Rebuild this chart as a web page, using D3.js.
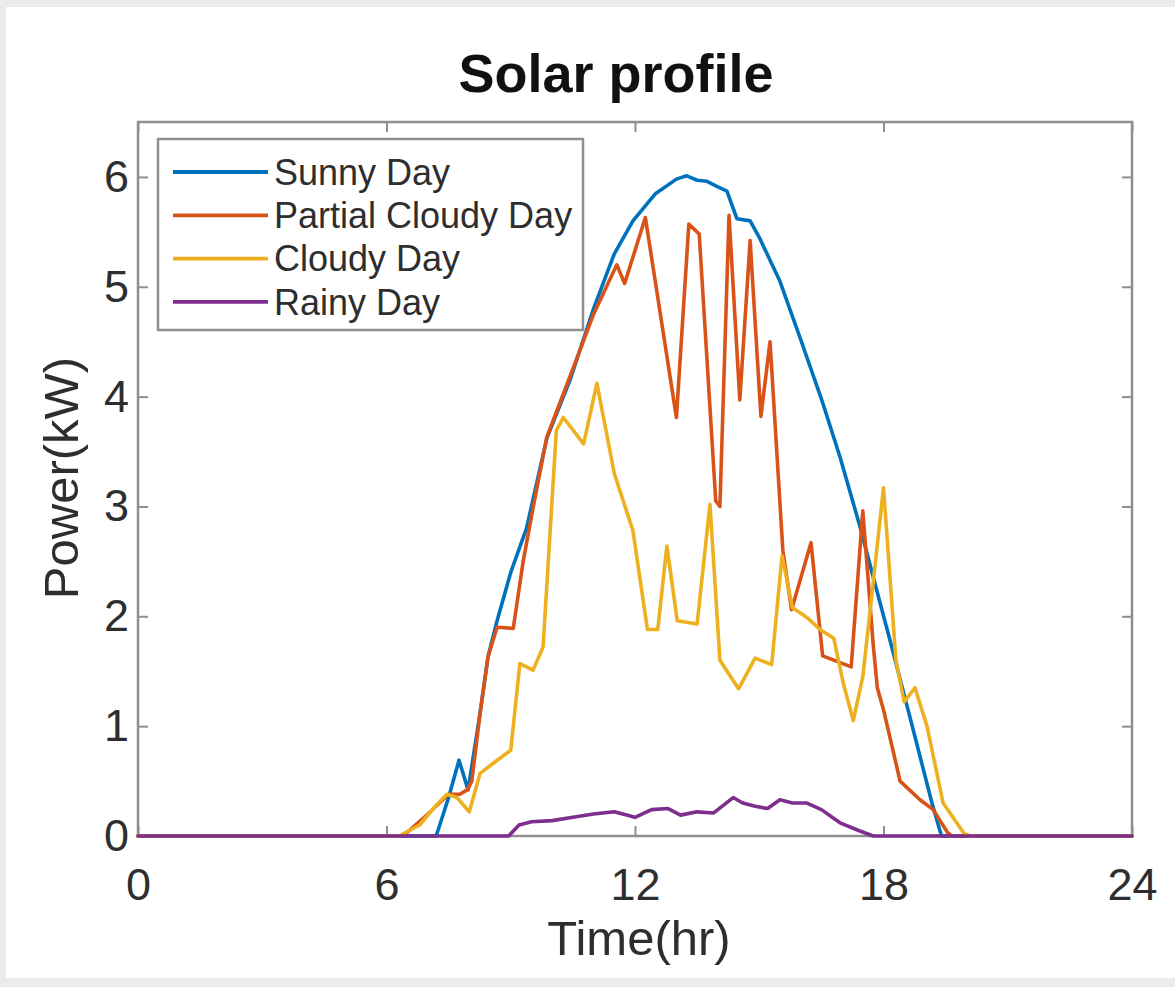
<!DOCTYPE html>
<html>
<head>
<meta charset="utf-8">
<script src="https://cdn.jsdelivr.net/npm/d3@7"></script>
<style>
  html, body { margin: 0; padding: 0; background: #ebebeb; }
  svg { display: block; }
  text { font-family: "Liberation Sans", Arial, Helvetica, sans-serif; }
</style>
</head>
<body>
<svg id="chart" width="1175" height="987"></svg>
<script>
// ---------------- data (time in hours, power in kW) ----------------
const seriesNames = ["Sunny Day", "Partial Cloudy Day", "Cloudy Day", "Rainy Day"];
const seriesColors = ["#0072BD", "#D95319", "#EDB120", "#7E2F8E"];

const sunny = [
  [0,0],[7.2,0],[7.5,0.35],[7.75,0.69],[7.97,0.42],[8.26,1.12],[8.45,1.63],[8.67,1.96],
  [9.0,2.4],[9.38,2.8],[9.87,3.62],[10.43,4.15],[11.0,4.8],[11.5,5.3],[11.95,5.6],
  [12.5,5.85],[13.0,5.98],[13.25,6.01],[13.5,5.97],[13.74,5.96],[14.0,5.91],[14.22,5.87],
  [14.46,5.62],[14.78,5.6],[15.0,5.45],[15.5,5.05],[16.0,4.52],[16.5,3.98],[16.95,3.45],
  [17.43,2.82],[17.75,2.36],[18.2,1.72],[18.64,1.08],[19.17,0.3],[19.4,0],[24,0]
];

const partialCloudy = [
  [0,0],[6.4,0],[7.0,0.2],[7.5,0.38],[7.77,0.38],[7.95,0.42],[8.06,0.5],[8.26,1.12],
  [8.45,1.63],[8.67,1.9],[9.06,1.89],[9.3,2.5],[9.54,2.99],[9.87,3.63],[10.67,4.42],
  [11.0,4.75],[11.56,5.2],[11.75,5.03],[12.25,5.63],[13.0,3.81],[13.3,5.57],[13.55,5.48],
  [13.95,3.05],[14.05,3.0],[14.27,5.65],[14.53,3.97],[14.78,5.42],[15.04,3.82],[15.26,4.5],
  [15.57,2.6],[15.78,2.06],[16.25,2.67],[16.53,1.64],[17.22,1.54],[17.5,2.96],[17.75,1.75],
  [17.85,1.35],[18.0,1.15],[18.4,0.5],[18.88,0.33],[19.2,0.24],[19.55,0.03],[19.65,0],[24,0]
];

const cloudy = [
  [0,0],[6.3,0],[6.8,0.1],[7.2,0.28],[7.46,0.38],[7.7,0.35],[8.0,0.22],[8.26,0.57],
  [8.57,0.66],[9.0,0.78],[9.22,1.57],[9.54,1.51],[9.78,1.72],[10.1,3.69],[10.27,3.81],
  [10.76,3.57],[11.08,4.12],[11.5,3.3],[11.95,2.78],[12.3,1.88],[12.55,1.88],[12.77,2.64],
  [13.02,1.96],[13.5,1.93],[13.81,3.02],[14.05,1.6],[14.5,1.34],[14.9,1.62],[15.3,1.56],
  [15.55,2.55],[15.8,2.08],[16.15,1.99],[16.5,1.87],[16.8,1.8],[17.03,1.39],[17.27,1.05],
  [17.5,1.45],[17.72,2.2],[18.0,3.17],[18.3,1.6],[18.5,1.22],[18.76,1.35],[19.05,1.0],
  [19.44,0.3],[19.95,0.02],[20.1,0],[24,0]
];

const rainy = [
  [0,0],[8.95,0],[9.2,0.1],[9.5,0.13],[10.0,0.14],[10.5,0.17],[11.0,0.2],[11.5,0.22],
  [12.0,0.17],[12.4,0.24],[12.8,0.25],[13.1,0.19],[13.5,0.22],[13.9,0.21],[14.37,0.35],
  [14.6,0.3],[14.9,0.27],[15.2,0.25],[15.5,0.33],[15.8,0.3],[16.15,0.3],[16.5,0.24],
  [16.95,0.12],[17.4,0.05],[17.75,0],[24,0]
];

const xTicks = [0, 6, 12, 18, 24];
const yTicks = [0, 1, 2, 3, 4, 5, 6];
const titleText = "Solar profile";
const xLabel = "Time(hr)";
const yLabel = "Power(kW)";

// ---------------- drawing ----------------
const svg = d3.select("#chart");
const W = 1175, H = 987;
const plot = { left: 138, right: 1132, top: 122, bottom: 836 };
const boxColor = "#8f8f8f";
const textColor = "#2e2e2e";

// white figure panel
svg.append("rect").attr("x", 6).attr("y", 7).attr("width", W - 6).attr("height", 971).attr("fill", "#ffffff");

const x = d3.scaleLinear().domain([0, 24]).range([plot.left, plot.right]);
const y = d3.scaleLinear().domain([0, 6.5]).range([plot.bottom, plot.top]);

// axes
const gx = svg.append("g").attr("transform", `translate(0,${plot.bottom})`)
  .call(d3.axisBottom(x).tickValues(xTicks).tickFormat(d3.format("d")).tickSizeInner(-10).tickSizeOuter(0).tickPadding(32));
const gy = svg.append("g").attr("transform", `translate(${plot.left},0)`)
  .call(d3.axisLeft(y).tickValues(yTicks).tickFormat(d3.format("d")).tickSizeInner(-10).tickSizeOuter(0).tickPadding(9));
const gxt = svg.append("g").attr("transform", `translate(0,${plot.top})`)
  .call(d3.axisTop(x).tickValues(xTicks).tickFormat("").tickSizeInner(-10).tickSizeOuter(0));
const gyr = svg.append("g").attr("transform", `translate(${plot.right},0)`)
  .call(d3.axisRight(y).tickValues(yTicks).tickFormat("").tickSizeInner(-10).tickSizeOuter(0));

[gx, gy, gxt, gyr].forEach(g => {
  g.select(".domain").remove();
  g.selectAll(".tick line").attr("stroke", boxColor).attr("stroke-width", 2);
  g.selectAll(".tick text").attr("fill", textColor).attr("font-size", 45)
    .attr("font-family", "'Liberation Sans', Arial, sans-serif");
});

// plot frame
svg.append("rect")
  .attr("x", plot.left).attr("y", plot.top)
  .attr("width", plot.right - plot.left).attr("height", plot.bottom - plot.top)
  .attr("fill", "none").attr("stroke", boxColor).attr("stroke-width", 2.5);

// lines
const line = d3.line().x(d => x(d[0])).y(d => y(d[1]));
const allSeries = [sunny, partialCloudy, cloudy, rainy];
allSeries.forEach((s, i) => {
  svg.append("path").datum(s)
    .attr("d", line)
    .attr("fill", "none")
    .attr("stroke", seriesColors[i])
    .attr("stroke-width", 3.6)
    .attr("stroke-linejoin", "round")
    .attr("stroke-linecap", "round");
});

// title and labels
svg.append("text").attr("x", 616).attr("y", 92).attr("text-anchor", "middle")
  .attr("font-size", 54).attr("font-weight", "bold").attr("fill", "#111").text(titleText);
svg.append("text").attr("x", 639).attr("y", 955).attr("text-anchor", "middle")
  .attr("font-size", 49).attr("fill", textColor).text(xLabel);
svg.append("text").attr("transform", `translate(78,478) rotate(-90)`).attr("text-anchor", "middle")
  .attr("font-size", 49).attr("fill", textColor).text(yLabel);

// legend
const leg = svg.append("g");
leg.append("rect").attr("x", 158).attr("y", 139).attr("width", 425).attr("height", 191)
  .attr("fill", "#ffffff").attr("stroke", boxColor).attr("stroke-width", 2.5);
seriesNames.forEach((name, i) => {
  const yy = 172 + i * 43.3;
  leg.append("line").attr("x1", 173).attr("x2", 268).attr("y1", yy).attr("y2", yy)
    .attr("stroke", seriesColors[i]).attr("stroke-width", 3.8);
  leg.append("text").attr("x", 274).attr("y", yy).attr("dy", "0.35em")
    .attr("font-size", 36).attr("fill", textColor).text(name);
});
</script>
</body>
</html>
